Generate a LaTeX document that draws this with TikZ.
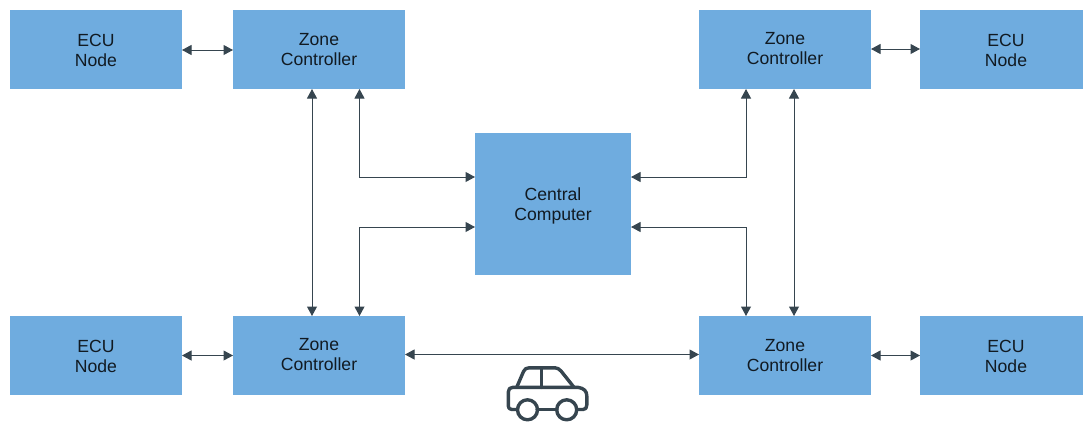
\documentclass[tikz,border=0pt]{standalone}
\usepackage{fontspec}
\setmainfont{Liberation Sans}
\usetikzlibrary{arrows.meta}
\definecolor{boxblue}{HTML}{6FACDF}
\definecolor{linedark}{HTML}{36454F}
\definecolor{textdark}{HTML}{111A22}
\tikzset{
  unitbox/.style={fill=boxblue,draw=none,inner sep=0pt,outer sep=0pt},
  boxtext/.style={inner sep=0pt,align=center,text=textdark,
    font=\fontsize{17.6pt}{20pt}\selectfont},
  wide/.style={unitbox,minimum width=172pt,minimum height=79pt},
  core/.style={unitbox,minimum width=156pt,minimum height=142pt},
  link/.style={draw=linedark,line width=1pt,{Triangle[length=9.5pt,width=10pt]}-{Triangle[length=9.5pt,width=10pt]}},
  carline/.style={draw=linedark,line width=3.4pt,line join=round,line cap=round}
}
\begin{document}
\begin{tikzpicture}[x=1pt,y=-1pt]
\useasboundingbox (0,0) rectangle (1083,421);
\node[wide,label={[boxtext,yshift=-1pt]center:ECU\\Node}] (ecuTL) at (96,49.5) {};
\node[wide,label={[boxtext]center:Zone\\Controller}] (zoneTL) at (319,49.5) {};
\node[wide,label={[boxtext,yshift=1pt]center:Zone\\Controller}] (zoneTR) at (785,49.5) {};
\node[wide,label={[boxtext,yshift=-1pt]center:ECU\\Node}] (ecuTR) at (1006,49.5) {};
\node[wide,label={[boxtext,yshift=-1pt]center:ECU\\Node}] (ecuBL) at (96,355.5) {};
\node[wide,label={[boxtext,yshift=1pt]center:Zone\\Controller}] (zoneBL) at (319,355.5) {};
\node[wide,label={[boxtext]center:Zone\\Controller}] (zoneBR) at (785,355.5) {};
\node[wide,label={[boxtext,yshift=-1pt]center:ECU\\Node}] (ecuBR) at (1006,355.5) {};
\node[core,label={[boxtext,yshift=-2pt]center:Central\\Computer}] (central) at (553,204) {};

\draw[link] ([yshift=-.5pt]ecuTL.east) -- ([yshift=-.5pt]zoneTL.west);
\draw[link] ([yshift=.5pt]zoneTR.east) -- ([yshift=.5pt]ecuTR.west);
\draw[link] (ecuBL.east) -- (zoneBL.west);
\draw[link] (zoneBR.east) -- (ecuBR.west);
\draw[link] ([yshift=1pt]zoneBL.east) -- ([yshift=1pt]zoneBR.west);
\draw[link] ([xshift=-7pt]zoneTL.south) -- ([xshift=-7pt]zoneBL.north);
\draw[link] ([xshift=9pt]zoneTR.south) -- ([xshift=9pt]zoneBR.north);
\draw[link] ([xshift=40.5pt]zoneTL.south) |- ([yshift=27pt]central.west);
\draw[link] ([xshift=40.5pt]zoneBL.north) |- ([yshift=-23pt]central.west);
\draw[link] ([xshift=-39pt]zoneTR.south) |- ([yshift=27pt]central.east);
\draw[link] ([xshift=-39pt]zoneBR.north) |- ([yshift=-23pt]central.east);

% car
\draw[carline] (517,409.5) -- (512,409.5) .. controls (509.5,409.5) and (508.3,408) .. (508.3,406)
  -- (508.3,392) .. controls (508.3,389) and (510,387.3) .. (513,387.3)
  -- (578,387.3) .. controls (584,388.3) and (586.8,391) .. (586.8,396)
  -- (586.8,405) .. controls (586.8,408) and (585.5,409.5) .. (583,409.5) -- (577,409.5);
\draw[carline] (537,409.5) -- (557,409.5);
\draw[carline] (516.7,387.3) -- (523.5,371.5) .. controls (524.5,369) and (526.5,367.8) .. (529,367.8)
  -- (555,367.8) .. controls (557.5,367.8) and (559,369) .. (561,371) -- (574,387.3);
\draw[carline] (541.7,367.8) -- (541.7,387.3);
\draw[carline] (527.5,409.8) circle[radius=10pt];
\draw[carline] (566.7,409.8) circle[radius=10pt];
\end{tikzpicture}
\end{document}
